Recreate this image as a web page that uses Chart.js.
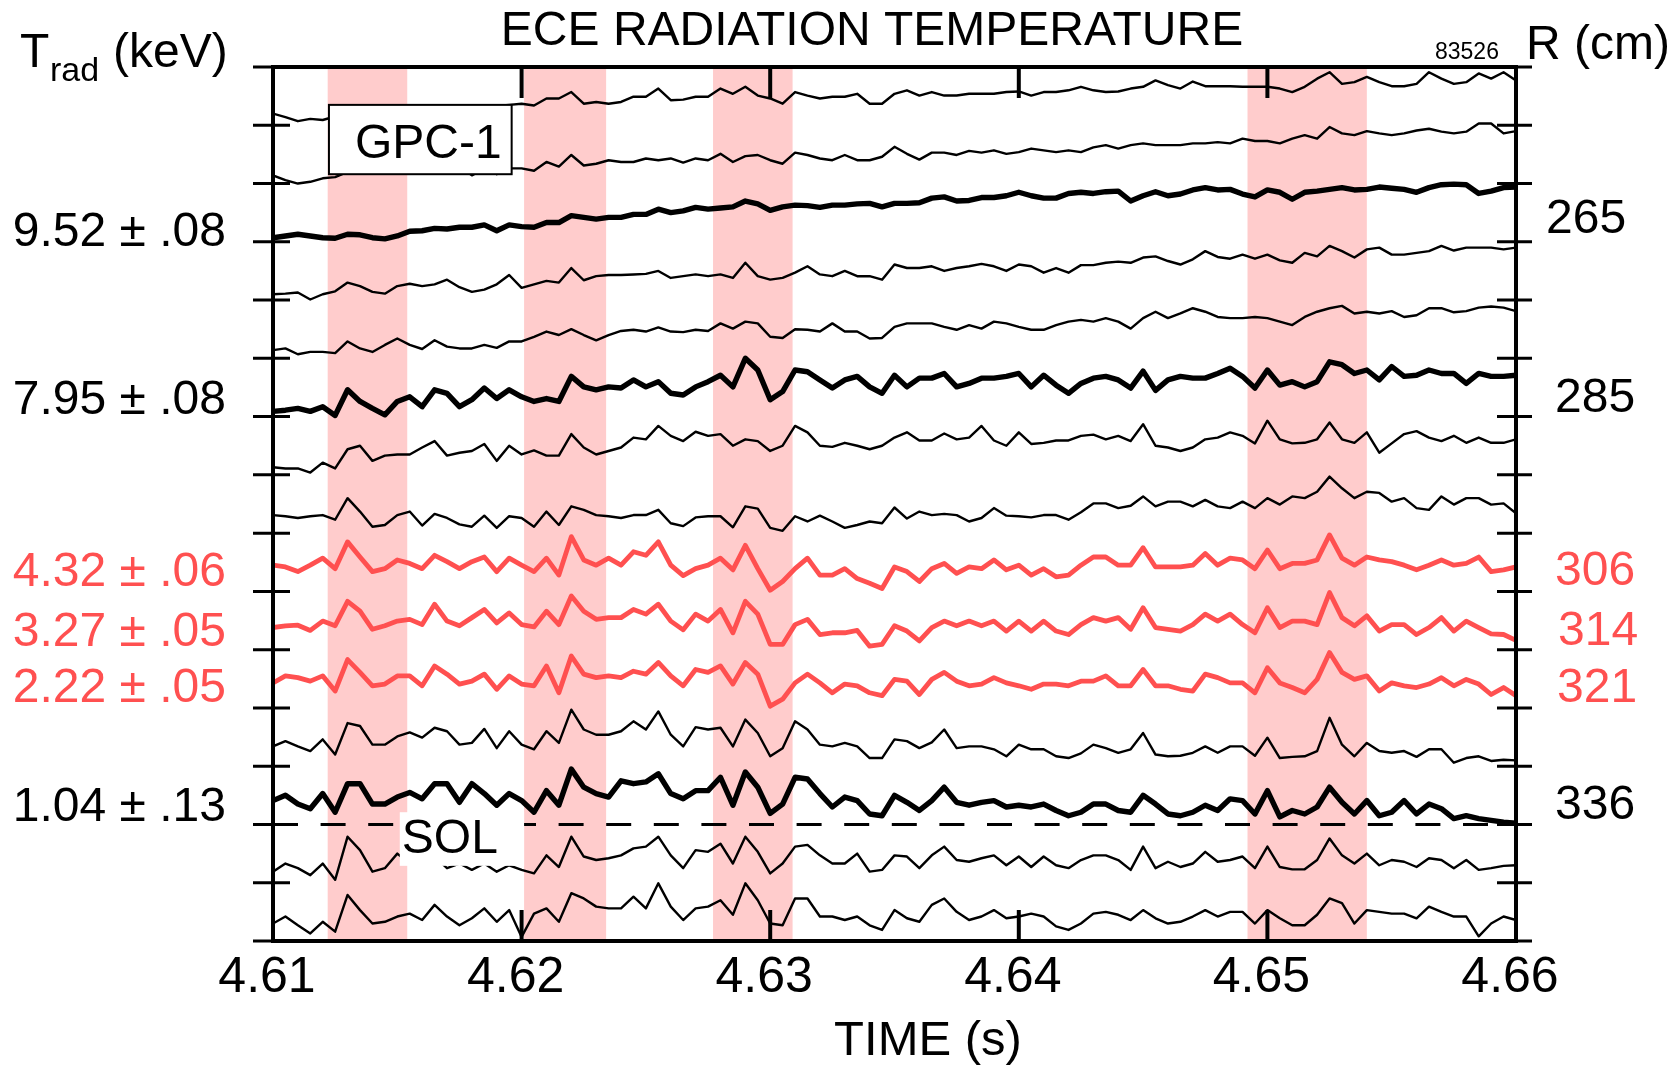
<!DOCTYPE html>
<html><head><meta charset="utf-8">
<script src="https://cdn.jsdelivr.net/npm/chart.js@4.4.1/dist/chart.umd.min.js"></script>
<style>html,body{margin:0;padding:0;background:#fff;}canvas{display:block;}</style>
</head><body>
<canvas id="c" width="1678" height="1065"></canvas>
<script>
// ---------- DATA ----------
const timeStart = 4.61, timeStep = 0.0005;
const timeTicks = [4.61, 4.62, 4.63, 4.64, 4.65, 4.66];
const bandStart = [4.6122, 4.6201, 4.6277, 4.6492];
const bandEnd   = [4.6154, 4.6234, 4.6309, 4.6540];
const channelBase  = [14, 13, 12, 11, 10, 9, 8, 7, 6, 5, 4, 3, 2, 1, 0];
const channelStyle = ['thin','thin','bold','thin','thin','bold','thin','thin','red','red','red','thin','bold','thin','thin'];
const solLevel = 2;
const leftLabels  = ['9.52 ± .08','7.95 ± .08','4.32 ± .06','3.27 ± .05','2.22 ± .05','1.04 ± .13'];
const rightLabels = ['265','285','306','314','321','336'];
const labelRed    = [false, false, true, true, true, false];

const ch1 = [0.20,0.14,0.07,0.11,0.09,0.15,0.20,0.22,0.25,0.30, 0.25,0.27,0.28,0.30,0.29,0.31,0.30,0.32,0.33,0.35, 0.37,0.34,0.46,0.46,0.57,0.37,0.40,0.37,0.40,0.49, 0.49,0.63,0.43,0.44,0.49,0.49,0.63,0.54,0.66,0.51, 0.46,0.37,0.57,0.51,0.46,0.49,0.49,0.54,0.37,0.37, 0.54,0.60,0.51,0.57,0.51,0.51,0.54,0.54,0.54,0.57, 0.58,0.51,0.57,0.57,0.60,0.66,0.60,0.57,0.58,0.63, 0.66,0.77,0.69,0.63,0.75,0.67,0.67,0.67,0.66,0.66, 0.66,0.63,0.57,0.66,0.80,0.91,0.71,0.74,0.83,0.74, 0.67,0.67,0.71,0.91,0.80,0.71,0.74,0.89,0.80,0.91, 0.77];
const ch2 = [0.14,0.06,0.00,0.03,0.09,0.11,0.20,0.20,0.23,0.26, 0.23,0.29,0.26,0.29,0.26,0.29,0.14,0.26,0.16,0.26, 0.26,0.22,0.37,0.29,0.49,0.31,0.34,0.40,0.37,0.37, 0.43,0.40,0.43,0.36,0.43,0.40,0.51,0.37,0.47,0.49, 0.40,0.34,0.53,0.49,0.43,0.40,0.49,0.40,0.40,0.46, 0.63,0.51,0.41,0.53,0.53,0.49,0.56,0.53,0.57,0.51, 0.54,0.60,0.57,0.54,0.57,0.54,0.62,0.66,0.60,0.66, 0.69,0.66,0.66,0.66,0.69,0.69,0.71,0.69,0.77,0.73, 0.73,0.69,0.77,0.83,0.77,0.97,0.86,0.83,0.90,0.86, 0.83,0.86,0.91,0.94,0.89,0.86,0.89,1.03,1.03,0.86, 0.90];
const ch3 = [0.07,0.10,0.13,0.10,0.07,0.06,0.13,0.12,0.07,0.05, 0.10,0.18,0.19,0.23,0.22,0.25,0.25,0.29,0.19,0.29, 0.26,0.25,0.33,0.33,0.45,0.42,0.39,0.42,0.42,0.47, 0.47,0.56,0.50,0.53,0.59,0.56,0.58,0.60,0.70,0.65, 0.54,0.60,0.63,0.62,0.59,0.63,0.63,0.65,0.66,0.60, 0.66,0.66,0.67,0.75,0.77,0.70,0.71,0.76,0.76,0.79, 0.85,0.79,0.75,0.75,0.83,0.85,0.83,0.86,0.87,0.70, 0.79,0.86,0.79,0.82,0.89,0.93,0.89,0.90,0.82,0.77, 0.89,0.85,0.73,0.85,0.87,0.90,0.93,0.89,0.90,0.94, 0.92,0.90,0.85,0.93,0.98,0.99,0.98,0.83,0.87,0.93, 0.94];
const ch4 = [0.10,0.11,0.13,0.01,0.10,0.15,0.30,0.24,0.14,0.11, 0.24,0.28,0.24,0.27,0.35,0.22,0.14,0.18,0.27,0.43, 0.21,0.27,0.33,0.30,0.55,0.34,0.41,0.43,0.43,0.44, 0.45,0.50,0.38,0.41,0.44,0.41,0.44,0.38,0.64,0.41, 0.35,0.38,0.47,0.58,0.44,0.41,0.50,0.41,0.41,0.35, 0.61,0.55,0.55,0.58,0.50,0.55,0.58,0.62,0.58,0.50, 0.61,0.58,0.47,0.55,0.47,0.60,0.60,0.64,0.66,0.64, 0.73,0.75,0.67,0.61,0.70,0.84,0.74,0.71,0.78,0.71, 0.78,0.68,0.64,0.81,0.75,0.93,0.84,0.73,0.87,0.90, 0.78,0.78,0.81,0.84,0.93,0.85,0.90,0.90,0.90,0.87, 0.90];
const ch5 = [0.14,0.17,0.07,0.11,0.11,0.09,0.29,0.17,0.11,0.23, 0.34,0.23,0.16,0.31,0.20,0.17,0.17,0.23,0.18,0.29, 0.29,0.37,0.46,0.40,0.50,0.40,0.31,0.40,0.47,0.49, 0.46,0.53,0.46,0.45,0.49,0.47,0.60,0.51,0.63,0.60, 0.37,0.35,0.50,0.49,0.46,0.60,0.46,0.46,0.34,0.35, 0.54,0.60,0.60,0.60,0.54,0.49,0.57,0.51,0.63,0.60, 0.54,0.49,0.49,0.57,0.63,0.66,0.63,0.69,0.63,0.51, 0.69,0.80,0.69,0.77,0.86,0.80,0.71,0.69,0.69,0.71, 0.69,0.63,0.57,0.71,0.80,0.86,0.90,0.77,0.80,0.77, 0.81,0.71,0.74,0.86,0.86,0.79,0.81,0.87,0.89,0.87, 0.81];
const ch6 = [0.09,0.11,0.14,0.09,0.17,0.02,0.46,0.26,0.14,0.03, 0.26,0.34,0.17,0.46,0.40,0.17,0.29,0.49,0.31,0.46, 0.34,0.26,0.31,0.26,0.69,0.51,0.46,0.51,0.49,0.63, 0.51,0.60,0.40,0.37,0.51,0.60,0.71,0.51,1.00,0.80, 0.29,0.43,0.80,0.77,0.63,0.49,0.63,0.69,0.51,0.40, 0.71,0.51,0.66,0.66,0.74,0.51,0.57,0.66,0.66,0.69, 0.74,0.51,0.71,0.54,0.40,0.57,0.66,0.69,0.63,0.49, 0.78,0.45,0.63,0.69,0.66,0.66,0.74,0.83,0.69,0.49, 0.80,0.54,0.60,0.51,0.60,0.94,0.89,0.74,0.80,0.63, 0.86,0.69,0.71,0.80,0.74,0.74,0.57,0.74,0.69,0.69, 0.71];
const ch7 = [0.13,0.11,0.11,0.04,0.21,0.11,0.44,0.50,0.24,0.33, 0.35,0.35,0.47,0.58,0.33,0.38,0.41,0.53,0.24,0.50, 0.35,0.42,0.33,0.33,0.70,0.47,0.35,0.41,0.47,0.64, 0.61,0.84,0.67,0.58,0.74,0.67,0.70,0.50,0.61,0.58, 0.41,0.50,0.84,0.73,0.50,0.48,0.55,0.50,0.44,0.50, 0.64,0.73,0.59,0.59,0.71,0.61,0.64,0.84,0.59,0.50, 0.73,0.53,0.55,0.59,0.59,0.67,0.69,0.61,0.67,0.58, 0.87,0.50,0.47,0.41,0.47,0.61,0.64,0.73,0.67,0.54, 0.93,0.61,0.54,0.55,0.61,0.90,0.61,0.55,0.73,0.38, 0.54,0.70,0.75,0.64,0.58,0.67,0.55,0.64,0.55,0.55, 0.61];
const ch8 = [0.31,0.29,0.26,0.29,0.31,0.23,0.60,0.37,0.11,0.14, 0.31,0.37,0.13,0.33,0.26,0.15,0.11,0.30,0.09,0.29, 0.26,0.11,0.37,0.14,0.46,0.40,0.31,0.29,0.26,0.31, 0.31,0.40,0.17,0.12,0.27,0.29,0.29,0.10,0.46,0.42, 0.09,0.04,0.29,0.20,0.30,0.20,0.09,0.14,0.20,0.17, 0.44,0.25,0.37,0.31,0.33,0.31,0.20,0.26,0.43,0.30, 0.29,0.27,0.31,0.31,0.23,0.36,0.51,0.51,0.43,0.47, 0.63,0.46,0.54,0.54,0.46,0.57,0.46,0.43,0.54,0.43, 0.60,0.49,0.63,0.60,0.71,0.97,0.77,0.60,0.71,0.69, 0.54,0.60,0.43,0.40,0.63,0.49,0.60,0.60,0.49,0.51, 0.34];
const ch9 = [0.45,0.42,0.34,0.45,0.57,0.39,0.85,0.59,0.34,0.39, 0.54,0.48,0.39,0.62,0.51,0.39,0.51,0.59,0.34,0.57, 0.45,0.34,0.57,0.28,0.94,0.54,0.45,0.57,0.45,0.68, 0.62,0.85,0.45,0.27,0.39,0.45,0.57,0.37,0.79,0.39, 0.02,0.17,0.39,0.57,0.28,0.28,0.39,0.22,0.14,0.05, 0.42,0.34,0.17,0.39,0.48,0.31,0.42,0.39,0.54,0.37, 0.45,0.28,0.39,0.25,0.28,0.45,0.59,0.59,0.45,0.45, 0.75,0.42,0.42,0.42,0.45,0.65,0.45,0.57,0.54,0.39, 0.71,0.39,0.48,0.48,0.54,0.97,0.57,0.45,0.59,0.54, 0.51,0.45,0.37,0.45,0.54,0.45,0.48,0.59,0.34,0.37, 0.42];
const ch10 = [0.38,0.41,0.42,0.33,0.49,0.41,0.83,0.66,0.35,0.41, 0.49,0.52,0.43,0.78,0.49,0.41,0.55,0.69,0.46,0.63, 0.43,0.39,0.66,0.43,0.92,0.66,0.52,0.55,0.55,0.69, 0.61,0.78,0.49,0.34,0.61,0.49,0.69,0.29,0.83,0.61, 0.09,0.09,0.43,0.52,0.26,0.29,0.29,0.33,0.06,0.09, 0.41,0.32,0.15,0.38,0.49,0.41,0.49,0.41,0.49,0.32, 0.49,0.32,0.49,0.32,0.26,0.43,0.55,0.49,0.55,0.35, 0.72,0.38,0.35,0.32,0.43,0.61,0.49,0.61,0.43,0.29, 0.72,0.38,0.49,0.49,0.43,0.98,0.55,0.41,0.58,0.32, 0.43,0.43,0.26,0.38,0.55,0.32,0.49,0.38,0.27,0.26, 0.16];
const ch11 = [0.43,0.55,0.52,0.46,0.55,0.29,0.83,0.61,0.38,0.41, 0.55,0.55,0.38,0.72,0.58,0.41,0.46,0.58,0.32,0.55, 0.41,0.38,0.72,0.26,0.89,0.58,0.52,0.55,0.52,0.63, 0.58,0.78,0.55,0.38,0.66,0.61,0.72,0.41,0.78,0.58, 0.03,0.15,0.43,0.58,0.43,0.26,0.41,0.38,0.26,0.21, 0.49,0.46,0.23,0.49,0.61,0.46,0.38,0.41,0.52,0.43, 0.38,0.32,0.41,0.41,0.38,0.46,0.46,0.55,0.38,0.38, 0.66,0.38,0.38,0.32,0.29,0.58,0.52,0.43,0.43,0.26, 0.69,0.43,0.35,0.26,0.49,0.95,0.61,0.49,0.55,0.29, 0.43,0.38,0.35,0.41,0.52,0.38,0.49,0.41,0.23,0.35, 0.21];
const ch12 = [0.34,0.43,0.34,0.26,0.46,0.20,0.74,0.69,0.37,0.37, 0.51,0.58,0.49,0.66,0.60,0.37,0.40,0.64,0.31,0.60, 0.37,0.29,0.60,0.40,0.97,0.63,0.54,0.54,0.60,0.77, 0.63,0.94,0.54,0.34,0.67,0.63,0.66,0.34,0.80,0.57, 0.17,0.31,0.77,0.63,0.37,0.34,0.40,0.34,0.14,0.14, 0.46,0.43,0.31,0.41,0.63,0.31,0.34,0.34,0.29,0.17, 0.37,0.29,0.29,0.17,0.14,0.22,0.37,0.31,0.23,0.29, 0.57,0.20,0.17,0.18,0.23,0.34,0.23,0.34,0.34,0.18, 0.49,0.14,0.16,0.17,0.26,0.83,0.37,0.17,0.40,0.26, 0.23,0.26,0.16,0.29,0.29,0.06,0.14,0.17,0.09,0.11, 0.10];
const ch13 = [0.41,0.50,0.35,0.27,0.53,0.21,0.70,0.70,0.35,0.35, 0.47,0.55,0.44,0.70,0.70,0.38,0.70,0.53,0.33,0.53, 0.41,0.21,0.58,0.33,0.95,0.64,0.53,0.47,0.75,0.70, 0.73,0.87,0.53,0.44,0.58,0.58,0.81,0.33,0.90,0.64, 0.19,0.35,0.81,0.78,0.53,0.30,0.47,0.41,0.18,0.15, 0.50,0.38,0.24,0.41,0.64,0.38,0.33,0.38,0.41,0.30, 0.33,0.30,0.35,0.24,0.15,0.21,0.35,0.35,0.24,0.21, 0.50,0.35,0.18,0.15,0.21,0.33,0.24,0.44,0.41,0.18, 0.58,0.13,0.24,0.18,0.30,0.64,0.38,0.18,0.41,0.15, 0.21,0.41,0.18,0.35,0.27,0.10,0.15,0.10,0.07,0.04, 0.02];
const ch14 = [0.19,0.33,0.25,0.13,0.33,0.05,0.79,0.56,0.19,0.25, 0.50,0.33,0.39,0.45,0.25,0.33,0.22,0.33,0.19,0.30, 0.22,0.16,0.47,0.27,0.79,0.45,0.39,0.42,0.47,0.59, 0.62,0.79,0.47,0.25,0.56,0.53,0.67,0.33,0.79,0.53, 0.16,0.33,0.62,0.65,0.47,0.33,0.33,0.50,0.19,0.22, 0.47,0.45,0.25,0.47,0.62,0.39,0.36,0.42,0.47,0.30, 0.45,0.27,0.45,0.30,0.25,0.39,0.47,0.47,0.39,0.22, 0.62,0.25,0.36,0.27,0.33,0.53,0.36,0.39,0.45,0.25, 0.62,0.27,0.23,0.23,0.39,0.76,0.47,0.33,0.50,0.30, 0.39,0.36,0.27,0.42,0.39,0.25,0.39,0.22,0.25,0.29, 0.30];
const ch15 = [0.30,0.42,0.27,0.13,0.33,0.16,0.79,0.53,0.30,0.33, 0.42,0.47,0.36,0.62,0.42,0.27,0.39,0.56,0.33,0.53, 0.07,0.47,0.56,0.33,0.82,0.73,0.59,0.56,0.56,0.76, 0.56,0.99,0.59,0.36,0.56,0.59,0.70,0.45,0.99,0.70, 0.30,0.27,0.73,0.73,0.42,0.42,0.36,0.42,0.27,0.19, 0.53,0.39,0.33,0.62,0.73,0.50,0.36,0.42,0.53,0.39, 0.42,0.47,0.42,0.25,0.19,0.30,0.47,0.50,0.45,0.36, 0.53,0.39,0.30,0.33,0.42,0.53,0.42,0.50,0.50,0.30, 0.53,0.39,0.27,0.27,0.45,0.73,0.65,0.30,0.53,0.50, 0.47,0.47,0.39,0.59,0.50,0.42,0.42,0.08,0.30,0.42, 0.36];
const channels = [ch1,ch2,ch3,ch4,ch5,ch6,ch7,ch8,ch9,ch10,ch11,ch12,ch13,ch14,ch15];

// ---------- STYLE ----------
const FONT = '"Liberation Sans", Arial, Helvetica, sans-serif';
const RED = '#ff5050';
const styleMap = {
  thin: {color: '#000', width: 2.4},
  bold: {color: '#000', width: 5.4},
  red:  {color: RED, width: 4.8}
};

const datasets = channels.map((arr, k) => {
  const st = styleMap[channelStyle[k]];
  return {
    data: arr.map((v, i) => ({x: timeStart + i * timeStep, y: channelBase[k] + v})),
    borderColor: st.color,
    borderWidth: st.width,
    pointRadius: 0,
    tension: 0,
    borderJoinStyle: 'round',
    borderCapStyle: 'round',
    fill: false
  };
});

function txt(ctx, s, x, y, size, color, align, base) {
  ctx.font = size + 'px ' + FONT;
  ctx.fillStyle = color;
  ctx.textAlign = align || 'left';
  ctx.textBaseline = base || 'alphabetic';
  ctx.fillText(s, x, y);
}

const decor = {
  id: 'decor',
  beforeDraw(chart) {
    const ctx = chart.ctx;
    ctx.save(); ctx.fillStyle = '#fff'; ctx.fillRect(0, 0, chart.width, chart.height); ctx.restore();
  },
  beforeDatasetsDraw(chart) {
    const {ctx, chartArea: a, scales: {x, y}} = chart;
    ctx.save();
    ctx.fillStyle = '#ffcccc';
    for (let i = 0; i < bandStart.length; i++) {
      const x0 = x.getPixelForValue(bandStart[i]), x1 = x.getPixelForValue(bandEnd[i]);
      ctx.fillRect(x0, a.top, x1 - x0, a.bottom - a.top);
    }
    ctx.strokeStyle = '#000'; ctx.lineWidth = 3; ctx.setLineDash([25, 22.6]);
    const ys = y.getPixelForValue(solLevel);
    ctx.beginPath(); ctx.moveTo(a.left, ys); ctx.lineTo(a.right, ys); ctx.stroke();
    ctx.restore();
  },
  afterDraw(chart) {
    const {ctx, chartArea: a, scales: {x, y}} = chart;
    ctx.save();
    // annotation boxes
    const gx0 = x.getPixelForValue(4.61225), gx1 = x.getPixelForValue(4.6196);
    const gy0 = y.getPixelForValue(14.35), gy1 = y.getPixelForValue(13.16);
    ctx.fillStyle = '#fff'; ctx.fillRect(gx0, gy0, gx1 - gx0, gy1 - gy0);
    ctx.strokeStyle = '#000'; ctx.lineWidth = 2; ctx.strokeRect(gx0, gy0, gx1 - gx0, gy1 - gy0);
    txt(ctx, 'GPC-1', gx0 + 26, (gy0 + gy1) / 2 + 5, 48, '#000', 'left', 'middle');
    const sx0 = x.getPixelForValue(4.6151), sx1 = x.getPixelForValue(4.6201);
    const sy0 = y.getPixelForValue(2.21), sy1 = y.getPixelForValue(1.29);
    ctx.fillStyle = '#fff'; ctx.fillRect(sx0, sy0, sx1 - sx0, sy1 - sy0);
    txt(ctx, 'SOL', sx0 + 2, sy0 + 41, 48, '#000', 'left', 'alphabetic');

    // frame
    ctx.strokeStyle = '#000'; ctx.lineWidth = 4; ctx.setLineDash([]);
    ctx.strokeRect(a.left, a.top, a.right - a.left, a.bottom - a.top);
    // level ticks
    ctx.lineWidth = 3;
    for (let L = 0; L <= 15; L++) {
      const yy = y.getPixelForValue(L);
      ctx.beginPath(); ctx.moveTo(a.left - 20, yy); ctx.lineTo(a.left + 17, yy); ctx.stroke();
      ctx.beginPath(); ctx.moveTo(a.right - 19, yy); ctx.lineTo(a.right + 16, yy); ctx.stroke();
    }
    // time ticks
    ctx.lineWidth = 4;
    timeTicks.forEach(t => {
      const xx = x.getPixelForValue(t);
      if (t > timeTicks[0] && t < timeTicks[timeTicks.length - 1]) {
        ctx.beginPath(); ctx.moveTo(xx, a.top); ctx.lineTo(xx, a.top + 31); ctx.stroke();
        ctx.beginPath(); ctx.moveTo(xx, a.bottom); ctx.lineTo(xx, a.bottom - 31); ctx.stroke();
      }
      txt(ctx, t.toFixed(2), xx - 6, a.bottom + 37, 50, '#000', 'center', 'middle');
    });

    // titles
    txt(ctx, 'ECE RADIATION TEMPERATURE', 872, 45, 48, '#000', 'center');
    txt(ctx, 'TIME (s)', 928, 1041, 49, '#000', 'center', 'middle');
    txt(ctx, 'T', 20, 67, 48, '#000');
    txt(ctx, 'rad', 50, 81, 34, '#000');
    txt(ctx, '(keV)', 113, 67, 48, '#000');
    txt(ctx, 'R (cm)', 1526, 59, 48, '#000');
    txt(ctx, '83526', 1435, 59, 23, '#000');

    // channel labels
    const leftY  = [233, 401, 573, 633, 689, 808];
    const rightX = [1546, 1555, 1555, 1558, 1557, 1555];
    const rightY = [220, 399, 572, 632, 689, 806];
    for (let i = 0; i < leftLabels.length; i++) {
      const c = labelRed[i] ? RED : '#000';
      txt(ctx, leftLabels[i], 226, leftY[i], 48, c, 'right', 'middle');
      txt(ctx, rightLabels[i], rightX[i], rightY[i], 48, c, 'left', 'middle');
    }
    ctx.restore();
  }
};

new Chart(document.getElementById('c').getContext('2d'), {
  type: 'line',
  data: {datasets},
  options: {
    responsive: false,
    animation: false,
    events: [],
    layout: {padding: {left: 273, right: 162, top: 67, bottom: 124}},
    scales: {
      x: {type: 'linear', min: 4.61, max: 4.66, display: false},
      y: {type: 'linear', min: 0, max: 15, display: false}
    },
    plugins: {legend: {display: false}, tooltip: {enabled: false}, title: {display: false}}
  },
  plugins: [decor]
});
</script>
</body></html>
